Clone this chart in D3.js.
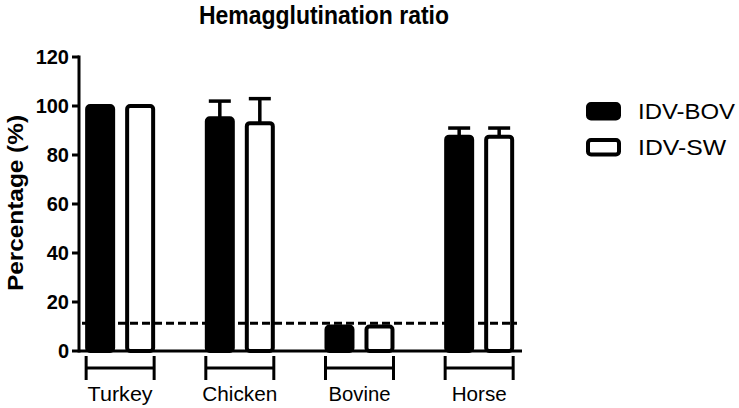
<!DOCTYPE html>
<html>
<head>
<meta charset="utf-8">
<script src="https://cdn.jsdelivr.net/npm/d3@7"></script>
<style>
  html, body { margin: 0; padding: 0; background: #fff; }
  svg { display: block; font-family: "Liberation Sans", Arial, Helvetica, sans-serif; }
</style>
</head>
<body>
<svg id="chart" width="739" height="408"></svg>
<script>
// ---- data ----
const categories = ["Turkey", "Chicken", "Bovine", "Horse"];
const seriesNames = ["IDV-BOV", "IDV-SW"];
const bovValues = [100, 95, 10, 87.5];
const bovErrors = [0, 7, 0, 3.5];
const swValues = [100, 93, 10, 87.5];
const swErrors = [0, 10, 0, 3.5];
const yTicks = [0, 20, 40, 60, 80, 100, 120];
const threshold = 11.3;
const title = "Hemagglutination ratio";
const yTitle = "Percentage (%)";

const seriesValues = [bovValues, swValues];
const seriesErrors = [bovErrors, swErrors];
const seriesFill = ["#000", "#fff"];
const catLabelWidths = [65, 75, 62, 55];
const legendWidths = [97, 88];

const svg = d3.select("#chart");
const axisLeft = 79, axisRight = 522;

const x0 = d3.scaleBand().domain(categories).range([60.3, 539]).padding(0);
const x1 = d3.scaleBand().domain(seriesNames).range([-40, 40]).padding(0);
const y = d3.scaleLinear().domain([0, 120]).range([351, 57]);

const barW = 26, sw = 4;

// bars
seriesNames.forEach((s, si) => {
  const g = svg.append("g");
  categories.forEach((c, ci) => {
    const cx = x0(c) + x0.bandwidth() / 2 + x1(s) + x1.bandwidth() / 2;
    const v = seriesValues[si][ci], e = seriesErrors[si][ci];
    if (e > 0) {
      g.append("line").attr("x1", cx).attr("x2", cx)
        .attr("y1", y(v)).attr("y2", y(v + e))
        .attr("stroke", "#000").attr("stroke-width", 3.5);
      g.append("line").attr("x1", cx - 11).attr("x2", cx + 11)
        .attr("y1", y(v + e)).attr("y2", y(v + e))
        .attr("stroke", "#000").attr("stroke-width", 3.5);
    }
    g.append("rect")
      .attr("x", cx - barW / 2).attr("width", barW)
      .attr("y", y(v)).attr("height", y(0) - y(v))
      .attr("rx", 3).attr("ry", 3)
      .attr("fill", seriesFill[si]).attr("stroke", "#000").attr("stroke-width", sw);
  });
});

// threshold dashed line
svg.append("line")
  .attr("x1", axisLeft + 3).attr("x2", axisRight - 5)
  .attr("y1", y(threshold)).attr("y2", y(threshold))
  .attr("stroke", "#000").attr("stroke-width", 3)
  .attr("stroke-dasharray", "8,4");

// y axis
const yAxis = svg.append("g");
yAxis.append("line").attr("x1", axisLeft).attr("x2", axisLeft)
  .attr("y1", y(120) - 1.5).attr("y2", y(0) + 1.5)
  .attr("stroke", "#000").attr("stroke-width", 3);
yTicks.forEach(t => {
  yAxis.append("line").attr("x1", axisLeft - 7).attr("x2", axisLeft)
    .attr("y1", y(t)).attr("y2", y(t)).attr("stroke", "#000").attr("stroke-width", 3);
  yAxis.append("text").attr("x", 69).attr("y", y(t))
    .attr("text-anchor", "end").attr("dy", "0.36em")
    .attr("font-size", 20).attr("font-weight", "bold").text(t);
});

// x axis
svg.append("line").attr("x1", axisLeft).attr("x2", axisRight)
  .attr("y1", y(0)).attr("y2", y(0)).attr("stroke", "#000").attr("stroke-width", 3);

// category brackets
categories.forEach((c, ci) => {
  const cx = x0(c) + x0.bandwidth() / 2;
  const l = cx + x1(seriesNames[0]) + x1.bandwidth() / 2 - barW / 2 - sw / 2 + 1;
  const r = cx + x1(seriesNames[1]) + x1.bandwidth() / 2 + barW / 2 + sw / 2 - 1;
  const g = svg.append("g").attr("stroke", "#000").attr("stroke-width", 3);
  g.append("line").attr("x1", l).attr("x2", l).attr("y1", 356).attr("y2", 380);
  g.append("line").attr("x1", r).attr("x2", r).attr("y1", 356).attr("y2", 380);
  g.append("line").attr("x1", l).attr("x2", r).attr("y1", 368).attr("y2", 368);
  svg.append("text").attr("x", cx - catLabelWidths[ci] / 2).attr("y", 400.5)
    .attr("font-size", 20.5)
    .attr("textLength", catLabelWidths[ci]).attr("lengthAdjust", "spacingAndGlyphs")
    .text(c);
});

// titles
svg.append("text").attr("x", 199).attr("y", 24)
  .attr("font-size", 26).attr("font-weight", "bold")
  .attr("textLength", 250).attr("lengthAdjust", "spacingAndGlyphs").text(title);
svg.append("text").attr("transform", "translate(23,291) rotate(-90)")
  .attr("font-size", 22).attr("font-weight", "bold")
  .attr("textLength", 176).attr("lengthAdjust", "spacingAndGlyphs").text(yTitle);

// legend
const legY = [104, 140];
seriesNames.forEach((s, i) => {
  svg.append("rect").attr("x", 588).attr("y", legY[i]).attr("width", 31).attr("height", 14.5)
    .attr("rx", 3).attr("ry", 3)
    .attr("fill", seriesFill[i]).attr("stroke", "#000").attr("stroke-width", sw);
  svg.append("text").attr("x", 638).attr("y", legY[i] + 14.5)
    .attr("font-size", 22)
    .attr("textLength", legendWidths[i]).attr("lengthAdjust", "spacingAndGlyphs").text(s);
});
</script>
</body>
</html>
